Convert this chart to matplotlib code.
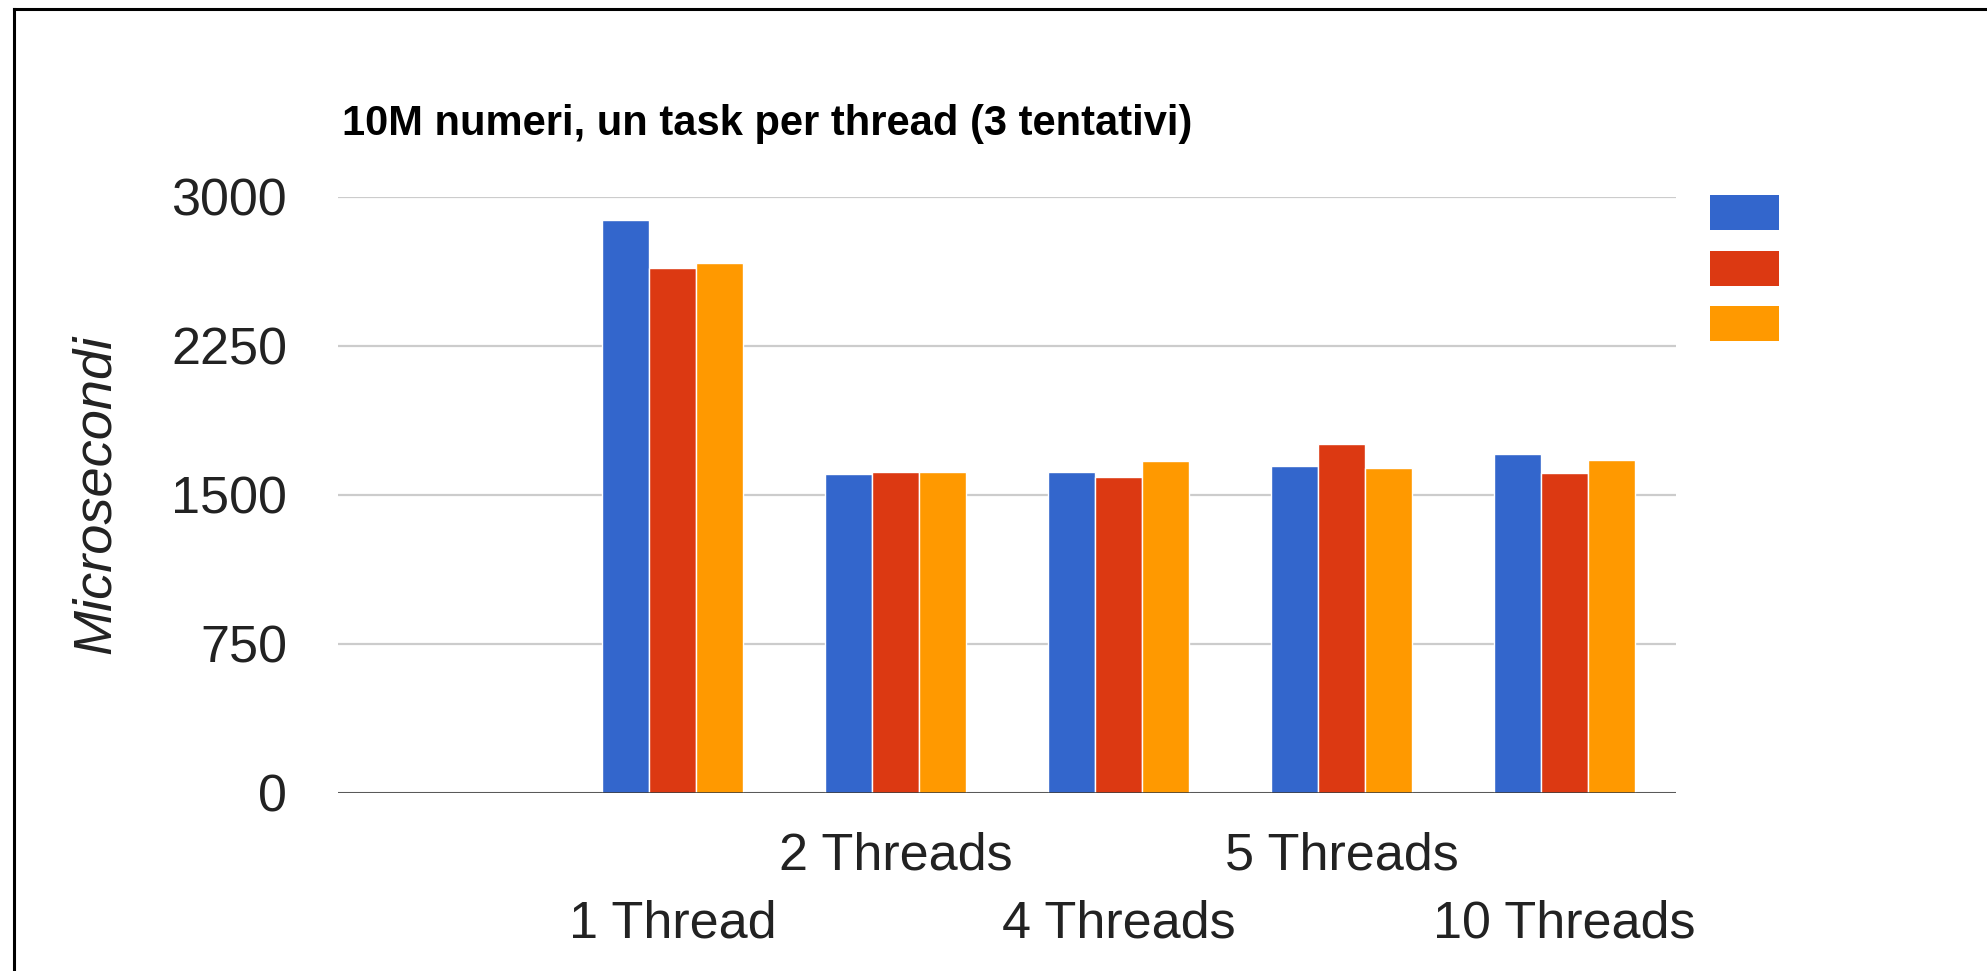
import numpy as np
import matplotlib
matplotlib.use("Agg")
import matplotlib.pyplot as plt
from matplotlib.patches import Patch
from matplotlib.lines import Line2D

plt.rcParams['font.family'] = ['Liberation Sans', 'DejaVu Sans']

# data (microseconds, 3 runs per thread count)
categories = ["", "1 Thread", "2 Threads", "4 Threads", "5 Threads", "10 Threads"]
run1 = [np.nan, 2881, 1602, 1615, 1646, 1703]
run2 = [np.nan, 2639, 1615, 1590, 1757, 1608]
run3 = [np.nan, 2666, 1615, 1669, 1634, 1673]
yticks = [0, 750, 1500, 2250, 3000]
colors = ['#3366CC', '#DC3912', '#FF9900']

W, H = 1987, 971
fig = plt.figure(figsize=(W / 100, H / 100), dpi=100)
ax = fig.add_axes([338 / W, 1 - 792.7 / H, (1676 - 338) / W, (792.7 - 196.7) / H])

x = np.arange(len(categories))
bw = 0.21
for k, (vals, c) in enumerate(zip([run1, run2, run3], colors)):
    ax.bar(x + (k - 1) * bw, vals, width=bw, color=c, edgecolor='white',
           linewidth=1.0, zorder=3)

ax.set_xlim(-0.5, len(categories) - 0.5)
ax.set_ylim(0, 3000)
ax.set_yticks(yticks)
ax.set_yticklabels([str(v) for v in yticks])
ax.yaxis.grid(True, color='#cccccc', linewidth=1.6, zorder=0)
ax.axhline(0, color='#333333', linewidth=1.8, zorder=4)
for s in ax.spines.values():
    s.set_visible(False)

# staggered category labels: even indices upper row, odd indices lower row
ax.set_xticks(x[::2])
ax.set_xticklabels(categories[::2])
ax.set_xticks(x[1::2], minor=True)
ax.set_xticklabels(categories[1::2], minor=True)
ax.tick_params(axis='x', which='major', length=0, pad=28, labelsize=37.5, labelcolor='#222222')
ax.tick_params(axis='x', which='minor', length=0, pad=77, labelsize=37.5, labelcolor='#222222')
ax.tick_params(axis='y', length=0, pad=36.7, labelsize=37.5, labelcolor='#222222')

ax.set_ylabel("Microsecondi", fontsize=39, style='italic', color='#222222')
ax.yaxis.set_label_coords(-0.162, 0.5)

fig.text(342 / W, 1 - 135 / H, "10M numeri, un task per thread (3 tentativi)",
         fontsize=30, fontweight='bold', color='black', ha='left', va='baseline')

# legend with colour swatches only (no labels in the original)
handles = [Patch(facecolor=c, edgecolor='none') for c in colors]
fs_px = 14
hh = (35 / fs_px - 0.245) / 0.65   # legend box height = fs*(0.65*hh + 0.245)
ax.legend(handles, ['', '', ''], loc='upper left', bbox_to_anchor=(1710 / W, 1 - 195.3 / H),
          bbox_transform=fig.transFigure, frameon=False, fontsize=fs_px * 0.72,
          handlelength=69 / fs_px, handleheight=hh, labelspacing=20.3 / fs_px,
          handletextpad=0, borderpad=0, borderaxespad=0)

# frame lines on top and left edge of the picture
fig.add_artist(Line2D([13.5 / W, 13.5 / W], [0, 1 - 9.3 / H], color='black', linewidth=2.2))
fig.add_artist(Line2D([13.5 / W, 1], [1 - 9.3 / H, 1 - 9.3 / H], color='black', linewidth=2.2))

fig.savefig("out.png", dpi=100, facecolor='white')
